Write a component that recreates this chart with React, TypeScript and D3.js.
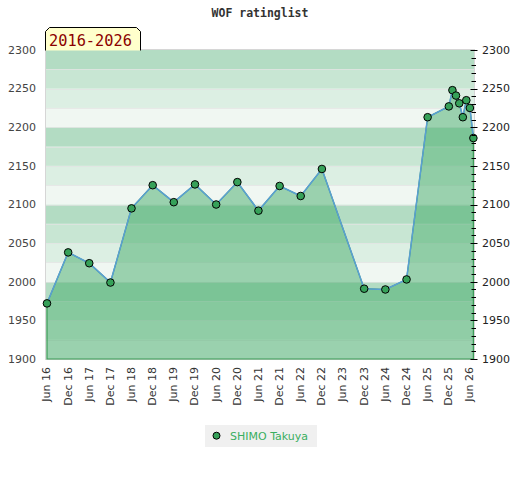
import React from 'react'
import * as d3 from 'd3'

const dates = [
  '2016-06-01', '2016-12-01', '2017-06-01', '2017-12-01', '2018-06-01', '2018-12-01',
  '2019-06-01', '2019-12-01', '2020-06-01', '2020-12-01', '2021-06-01', '2021-12-01',
  '2022-06-01', '2022-12-01', '2023-12-01', '2024-06-01', '2024-12-01', '2025-06-01',
  '2025-12-01', '2026-01-01', '2026-02-01', '2026-03-01', '2026-04-01', '2026-05-01',
  '2026-06-01', '2026-07-01',
]
const ratings = [
  1972, 2038, 2024, 1999, 2095, 2125, 2103, 2126, 2100, 2129, 2092, 2124, 2111, 2146,
  1991, 1990, 2003, 2213, 2227, 2248, 2241, 2231, 2213, 2235, 2225, 2186,
]
const yTicks = [1900, 1950, 2000, 2050, 2100, 2150, 2200, 2250, 2300]
const bandColors = ['#b3dcc3', '#c8e6d3', '#dcefe3', '#f0f7f2']
const title = 'WOF ratinglist'
const rangeLabel = '2016-2026'
const playerName = 'SHIMO Takuya'

const W = 520
const H = 480
const left = 45
const right = 475
const top = 50
const bottom = 359

const parse = d3.timeParse('%Y-%m-%d')

export default function App() {
  const points = dates.map((d, i) => ({ date: parse(d) as Date, value: ratings[i] }))

  const x = d3
    .scaleTime()
    .domain([parse('2016-05-15') as Date, parse('2026-07-15') as Date])
    .range([left, right])
  const y = d3.scaleLinear().domain([1900, 2300]).range([bottom, top])

  // ticks every six months, Jun and Dec
  const xTicks = d3.timeMonth.range(parse('2016-06-01') as Date, parse('2026-06-02') as Date, 6)
  const fmt = d3.timeFormat('%b %y')

  const bands = d3.range(1900, 2300, 25)
  const minorTicks = d3.range(1900, 2301, 10)

  const area = d3
    .area<{ date: Date; value: number }>()
    .x((d) => x(d.date))
    .y0(y(1900))
    .y1((d) => y(d.value))
  const line = d3
    .line<{ date: Date; value: number }>()
    .x((d) => x(d.date))
    .y((d) => y(d.value))

  const font = 'DejaVu Sans, sans-serif'
  const mono = 'DejaVu Sans Mono, monospace'

  return (
    <div style={{ position: 'absolute', left: 0, top: 0 }}>
      <svg width={W} height={H} style={{ display: 'block', background: '#fff' }}>
        <text x={260} y={17} textAnchor="middle" fontFamily={mono} fontWeight="bold" fontSize={11.5} fill="#333">
          {title}
        </text>

        {/* background bands, darkest at the top of every 100 */}
        {bands.map((b) => {
          const idx = 3 - Math.floor(((b - 1900) % 100) / 25)
          return (
            <rect
              key={`band-${b}`}
              x={left}
              y={y(b + 25)}
              width={right - left}
              height={y(b) - y(b + 25)}
              fill={bandColors[idx]}
            />
          )
        })}
        {bands.map((b) => (
          <line
            key={`grid-${b}`}
            x1={left}
            x2={right}
            y1={Math.round(y(b)) + 0.5}
            y2={Math.round(y(b)) + 0.5}
            stroke="#e2e2e2"
            strokeOpacity={0.7}
          />
        ))}
        <rect x={left + 0.5} y={top - 0.5} width={right - left - 1} height={bottom - top + 1} fill="none" stroke="#d6d6d6" />

        <path d={area(points) || ''} fill="#43ac69" fillOpacity={0.5} stroke="#3a9a55" strokeWidth={1.2} />
        <path d={line(points) || ''} fill="none" stroke="#5a9fd4" strokeWidth={1.5} />
        {points.map((p, i) => (
          <circle key={`pt-${i}`} cx={x(p.date)} cy={y(p.value)} r={3.8} fill="#36a159" stroke="#000" strokeWidth={1} />
        ))}

        {/* left axis */}
        {yTicks.map((t) => (
          <text key={`yl-${t}`} x={36} y={y(t)} dy="0.35em" textAnchor="end" fontFamily={font} fontSize={11} fill="#444">
            {t}
          </text>
        ))}

        {/* right axis */}
        {minorTicks.map((t) => {
          const major = t % 50 === 0
          const yy = Math.round(y(t)) + 0.5
          return (
            <line
              key={`rt-${t}`}
              x1={major ? 470.5 : 471.5}
              x2={major ? 477.5 : 476}
              y1={yy}
              y2={yy}
              stroke="#000"
              strokeWidth={1}
            />
          )
        })}
        {yTicks.map((t) => (
          <text key={`yr-${t}`} x={482} y={y(t)} dy="0.35em" fontFamily={font} fontSize={11} fill="#222">
            {t}
          </text>
        ))}

        {/* x axis labels */}
        {xTicks.map((t, i) => (
          <text
            key={`xl-${i}`}
            transform={`translate(${x(t) - 0.5},367) rotate(-90)`}
            dy="0.35em"
            textAnchor="end"
            fontFamily={font}
            fontSize={11}
            fill="#333"
          >
            {fmt(t)}
          </text>
        ))}

        {/* range tag */}
        <path
          d={`M45.5,50.5 V31.5 L49.5,27.5 H136.5 L140.5,31.5 V50.5`}
          fill="#ffffcc"
          stroke="#000"
          strokeWidth={1}
        />
        <text x={49} y={46} fontFamily={mono} fontSize={15.3} fill="#8b0000">
          {rangeLabel}
        </text>

        {/* legend */}
        <rect x={205} y={425} width={112} height={22} fill="#f0f0f0" />
        <circle cx={216.5} cy={435.7} r={3.5} fill="#36a159" stroke="#000" strokeWidth={1} />
        <text x={230} y={436} dy="0.35em" fontFamily={font} fontSize={11} fill="#3aae5f">
          {playerName}
        </text>
      </svg>
    </div>
  )
}
